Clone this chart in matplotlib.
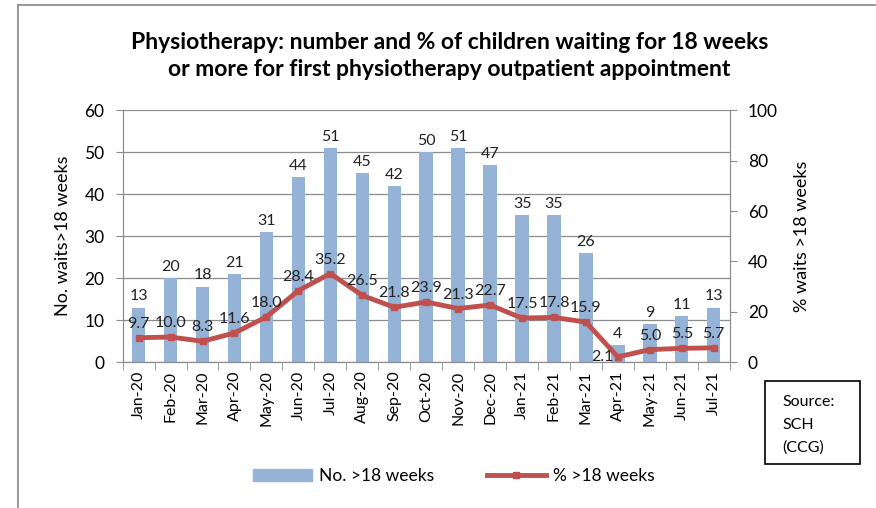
import numpy as np
import matplotlib.pyplot as plt
from matplotlib.lines import Line2D
from matplotlib.patches import Patch, Rectangle

months = ['Jan-20', 'Feb-20', 'Mar-20', 'Apr-20', 'May-20', 'Jun-20', 'Jul-20',
          'Aug-20', 'Sep-20', 'Oct-20', 'Nov-20', 'Dec-20', 'Jan-21', 'Feb-21',
          'Mar-21', 'Apr-21', 'May-21', 'Jun-21', 'Jul-21']
counts = [13, 20, 18, 21, 31, 44, 51, 45, 42, 50, 51, 47, 35, 35, 26, 4, 9, 11, 13]
pct = [9.7, 10.0, 8.3, 11.6, 18.0, 28.4, 35.2, 26.5, 21.8, 23.9, 21.3, 22.7,
       17.5, 17.8, 15.9, 2.1, 5.0, 5.5, 5.7]

plt.rcParams['font.family'] = ['Lato', 'DejaVu Sans']
bar_col = '#95B3D7'
line_col = '#C0504D'
grid_col = '#8C8C8C'

fig = plt.figure(figsize=(8.76, 5.08), dpi=100)
ax = fig.add_axes([0.140, 0.287, 0.693, 0.496])
x = np.arange(len(months))

ax.bar(x, counts, width=0.42, color=bar_col, zorder=2)
ax.set_xlim(-0.5, len(months) - 0.5)
ax.set_ylim(0, 60)
ax.set_yticks(range(0, 61, 10))
ax.grid(axis='y', color=grid_col, linewidth=0.9, zorder=0)
ax.set_xticks(x)
ax.set_xticklabels(months, rotation=90, fontsize=11.5)
ax.tick_params(axis='x', length=0, pad=6)
ax.set_xticks(np.arange(-0.5, len(months), 1), minor=True)
ax.tick_params(axis='x', which='minor', length=6, color=grid_col, direction='out')
ax.tick_params(axis='y', labelsize=12.5, length=5, color=grid_col, pad=8)
ax.spines['top'].set_visible(False)
for s in ['left', 'bottom', 'right']:
    ax.spines[s].set_color(grid_col)
ax.set_ylabel('No. waits>18 weeks', fontsize=13, labelpad=10)

for xi, c in zip(x, counts):
    ax.annotate(str(c), (xi, c), xytext=(0, 3), textcoords='offset points',
                ha='center', va='bottom', fontsize=11.5, color='#222222')

ax2 = ax.twinx()
ax2.plot(x, pct, color=line_col, linewidth=3.5, marker='s', markersize=4, zorder=3)
ax2.set_ylim(0, 100)
ax2.set_yticks(range(0, 101, 20))
ax2.tick_params(axis='y', labelsize=12.5, length=5, color=grid_col, pad=8)
ax2.spines['top'].set_visible(False)
for s in ['left', 'bottom', 'right']:
    ax2.spines[s].set_color(grid_col)
ax2.set_ylabel('% waits >18 weeks', fontsize=13, rotation=90, labelpad=12)

for i, (xi, p) in enumerate(zip(x, pct)):
    if i == 15:
        ax2.annotate(f'{p:.1f}', (xi, p), xytext=(-3, 0), textcoords='offset points',
                     ha='right', va='center', fontsize=11.5, color='#222222')
    else:
        ax2.annotate(f'{p:.1f}', (xi, p), xytext=(0, 5), textcoords='offset points',
                     ha='center', va='bottom', fontsize=11.5, color='#222222')

fig.text(0.513, 1 - 56 / 508, 'Physiotherapy: number and % of children waiting for 18 weeks\n'
         'or more for first physiotherapy outpatient appointment',
         ha='center', va='center', fontsize=16.5, fontweight='bold', linespacing=1.35)

handles = [Patch(color=bar_col),
           Line2D([0], [0], color=line_col, linewidth=3.5, marker='s', markersize=4)]
fig.legend(handles, ['No. >18 weeks', '% >18 weeks'], loc='center',
           bbox_to_anchor=(0.518, 0.063), ncol=2, frameon=False, fontsize=12.5,
           handlelength=3.4, handletextpad=0.4, columnspacing=3.0)

fig.patches.append(Rectangle((765 / 876, 1 - 464 / 508), 95 / 876, 83 / 508,
                             transform=fig.transFigure, fill=False,
                             edgecolor='black', linewidth=1.2))
fig.text(782 / 876, 1 - 425 / 508, 'Source:\nSCH\n(CCG)', ha='left', va='center',
         fontsize=11.5, linespacing=1.75)

fig.add_artist(Line2D([18 / 876, 18 / 876], [0, 1 - 5 / 508], transform=fig.transFigure,
                      color='#888888', linewidth=1.2))
fig.add_artist(Line2D([18 / 876, 1], [1 - 5 / 508, 1 - 5 / 508], transform=fig.transFigure,
                      color='#888888', linewidth=1.2))

fig.savefig('out.png', dpi=100)
